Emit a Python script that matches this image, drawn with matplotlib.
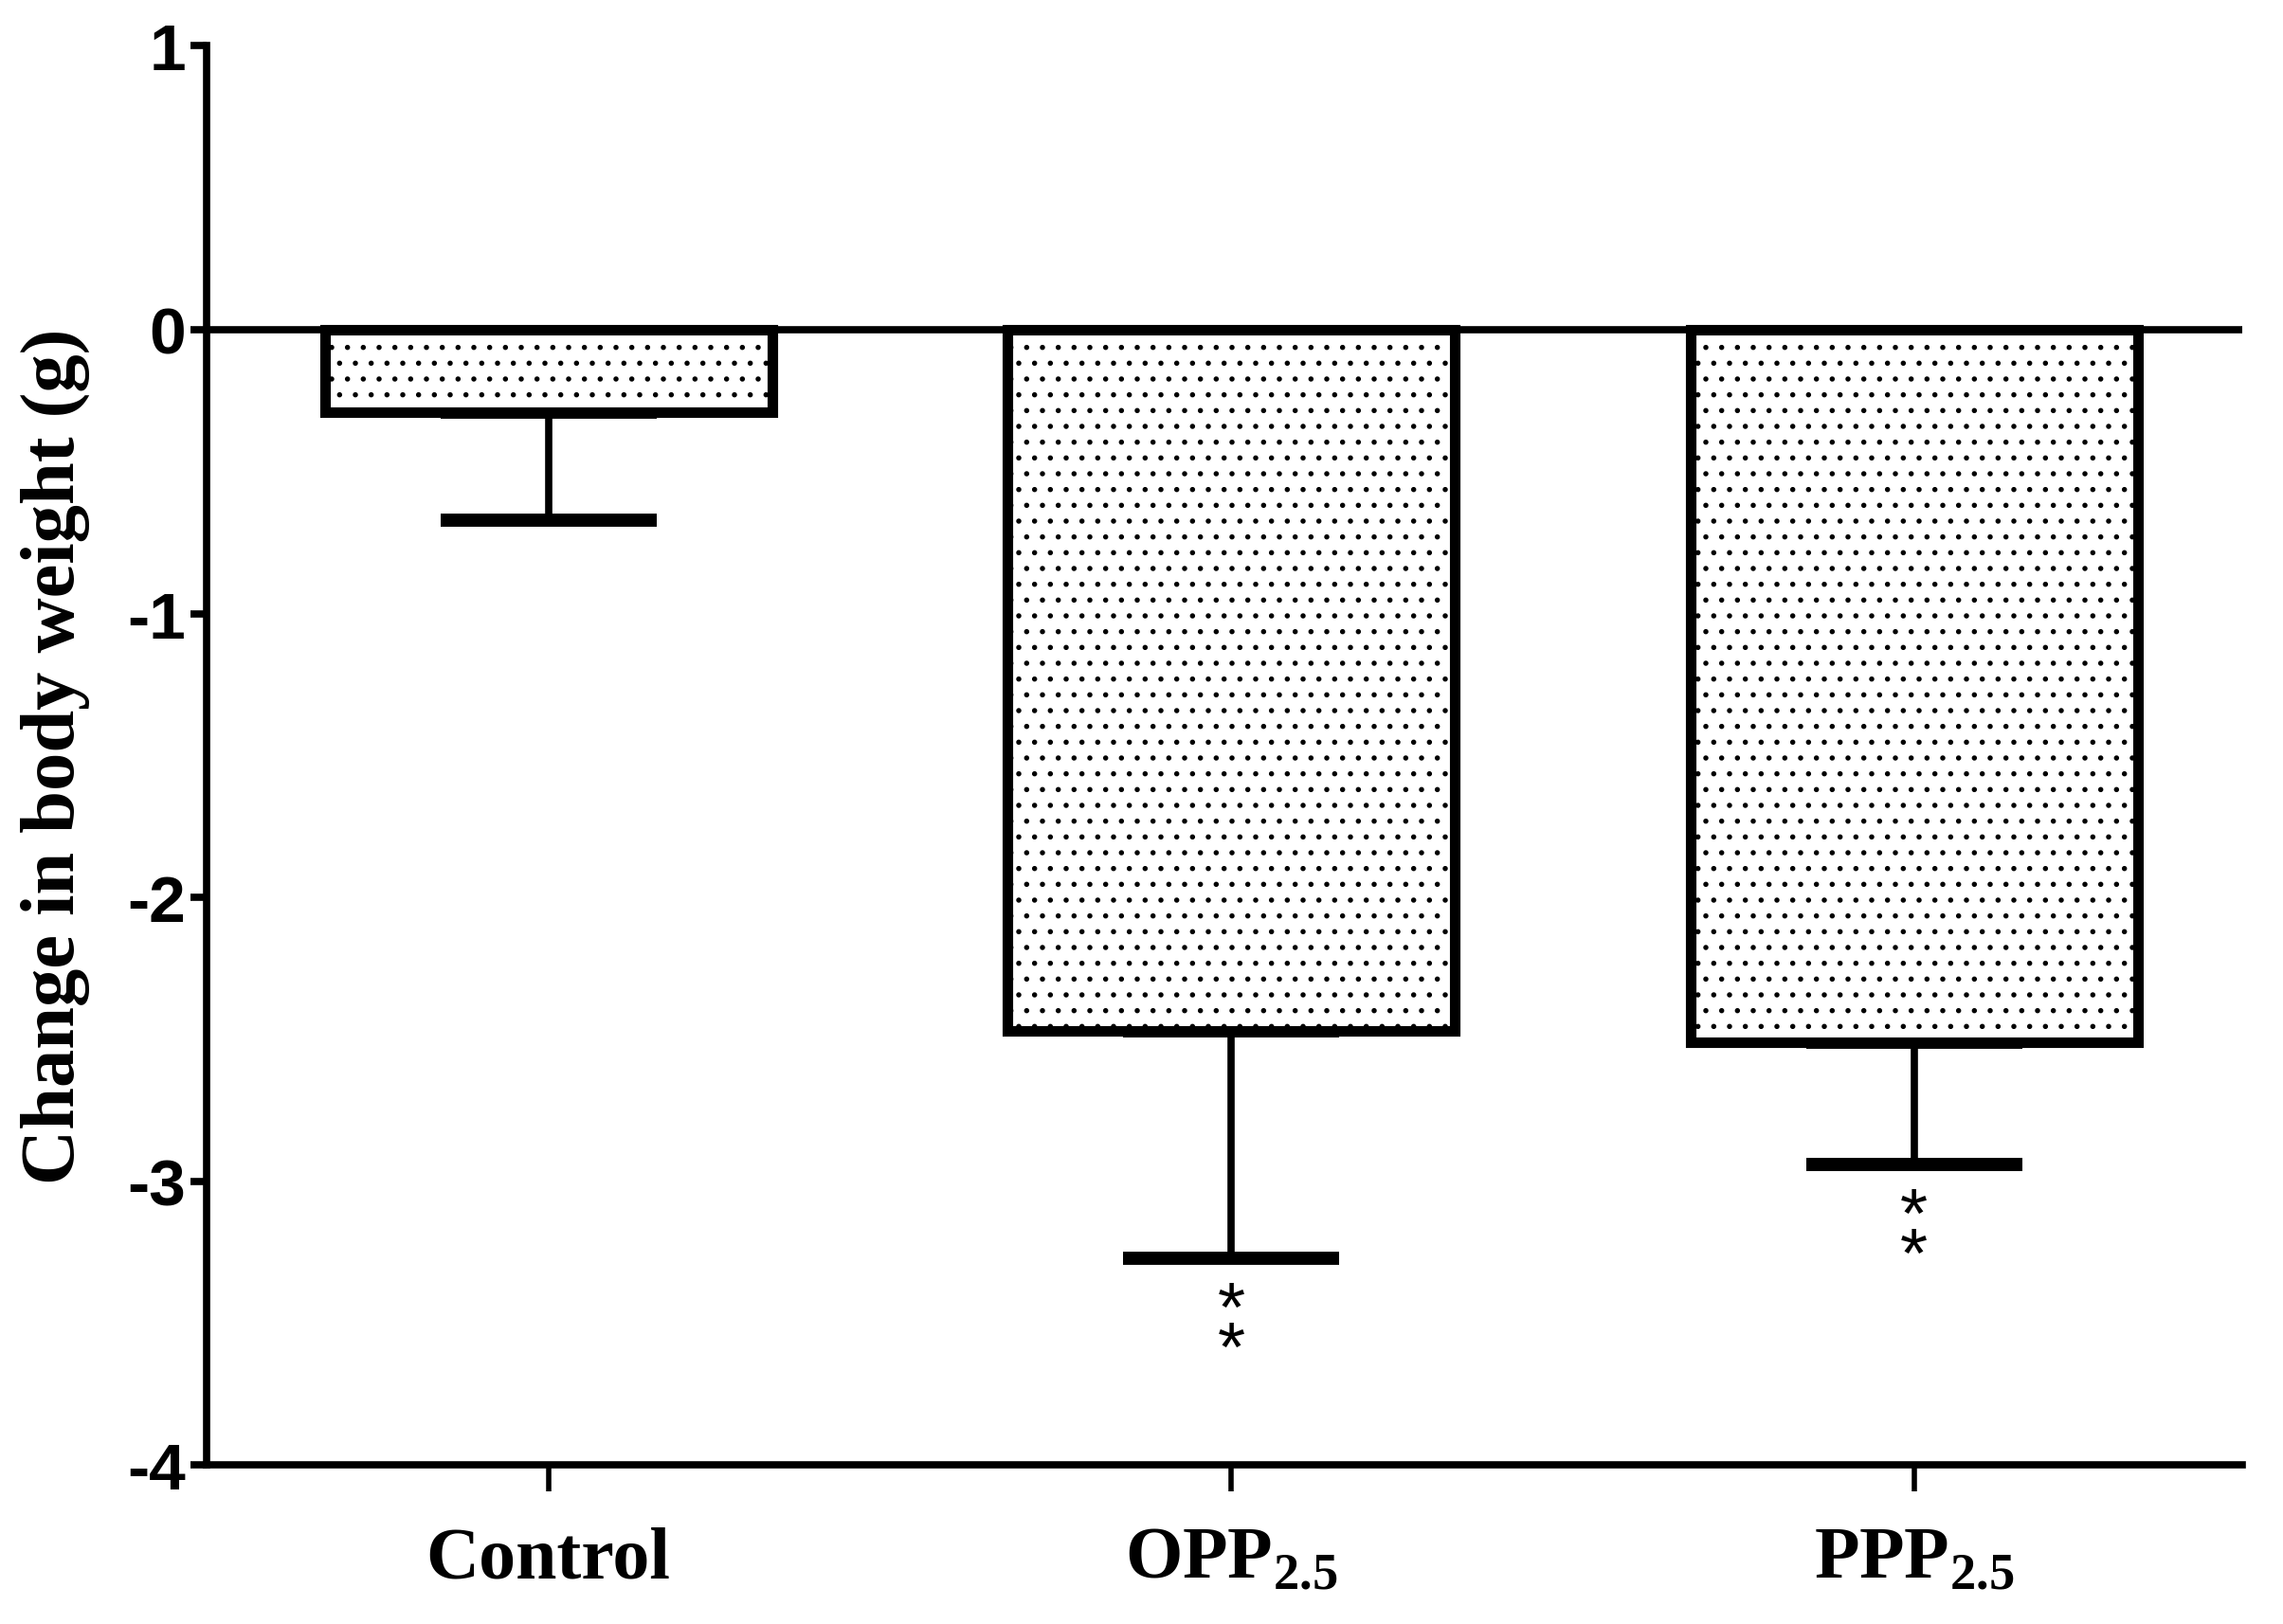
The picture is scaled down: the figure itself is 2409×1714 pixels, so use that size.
import numpy as np
import matplotlib
matplotlib.use('Agg')
import matplotlib.pyplot as plt

groups = ['Control', r'OPP$_{\mathbf{2.5}}$', r'PPP$_{\mathbf{2.5}}$']
means = [-0.29, -2.47, -2.51]
sems = [0.38, 0.80, 0.43]
stars = ['', '*\n*', '*\n*']
yticks = [-4, -3, -2, -1, 0, 1]

plt.rcParams['mathtext.fontset'] = 'custom'
plt.rcParams['mathtext.rm'] = 'Liberation Serif:bold'
plt.rcParams['mathtext.bf'] = 'Liberation Serif:bold'
plt.rcParams['hatch.linewidth'] = 1.5

fig = plt.figure(figsize=(24.09, 17.15), dpi=100)
ax = fig.add_axes([0.0906, 0.0977, 0.982 - 0.0906, 0.9713 - 0.0977])

x = np.arange(len(groups))
ax.bar(x, means, width=0.655, color='white', edgecolor='black',
       linewidth=8, hatch='.', zorder=3)
ax.errorbar(x, means, yerr=[sems, np.zeros(len(sems))], fmt='none',
            ecolor='black', elinewidth=5.5, capsize=82, capthick=10, zorder=2)

for xi, m, s, st in zip(x, means, sems, stars):
    if st:
        ax.annotate(st, (xi, m - s), xytext=(0, -16), textcoords='offset points',
                    ha='center', va='top', fontsize=54, linespacing=0.5,
                    family=['Liberation Sans', 'DejaVu Sans'])

ax.axhline(0, color='black', lw=5.5, zorder=4)

ax.set_xlim(-0.5, 2.48)
ax.set_ylim(-4, 1)
ax.set_yticks(yticks)
ax.set_yticklabels([str(v) for v in yticks])
ax.set_xticks(x)
ax.set_xticklabels(groups)

for s in ['top', 'right']:
    ax.spines[s].set_visible(False)
for s in ['left', 'bottom']:
    ax.spines[s].set_linewidth(5.5)

ax.tick_params(axis='y', length=12, width=5.5, pad=4)
ax.tick_params(axis='x', length=20, width=4, pad=26)
for lab in ax.get_yticklabels():
    lab.set_family(['Liberation Sans Narrow', 'Liberation Sans'])
    lab.set_fontweight('bold')
    lab.set_fontsize(50)
for lab in ax.get_xticklabels():
    lab.set_family('Liberation Serif')
    lab.set_fontweight('bold')
    lab.set_fontsize(56)

ax.set_ylabel('Change in body weight (g)', family='Liberation Serif',
              fontweight='bold', fontsize=58, labelpad=28)

fig.savefig('out.png', dpi=100, facecolor='white')
